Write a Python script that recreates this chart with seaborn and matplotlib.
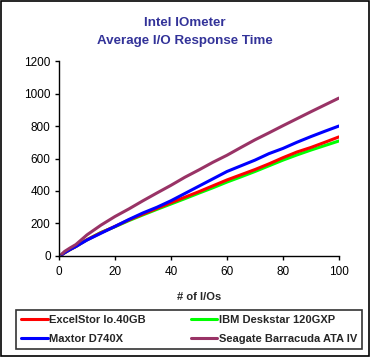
import pandas as pd
import seaborn as sns
import matplotlib.pyplot as plt
from matplotlib.patches import Rectangle

# Data
ios = [1, 2, 4, 6, 8, 10, 15, 20, 25, 30, 35, 40, 45, 50, 55, 60, 65, 70, 75, 80, 85, 90, 95, 100]
excelstor = [8, 20, 40, 58, 80, 100, 143, 182, 222, 258, 293, 328, 362, 396, 432, 468, 500, 532, 567, 605, 640, 668, 700, 733]
ibm = [8, 20, 40, 58, 80, 100, 145, 180, 218, 253, 287, 320, 353, 387, 420, 455, 487, 520, 555, 590, 622, 652, 680, 708]
maxtor = [8, 20, 40, 58, 78, 98, 140, 182, 225, 265, 300, 340, 385, 430, 475, 520, 555, 590, 630, 662, 700, 735, 768, 800]
seagate = [12, 28, 50, 70, 100, 130, 190, 243, 290, 340, 388, 435, 485, 530, 577, 620, 668, 715, 758, 802, 845, 888, 930, 972]

drives = ['ExcelStor Io.40GB', 'IBM Deskstar 120GXP', 'Maxtor D740X', 'Seagate Barracuda ATA IV']
colors = ['#ff0000', '#00ff00', '#0000ff', '#993366']

frames = []
for name, vals in zip(drives, [excelstor, ibm, maxtor, seagate]):
    frames.append(pd.DataFrame({'ios': ios, 'time': vals, 'drive': name}))
df = pd.concat(frames)

sns.set_style('white')
plt.rcParams['font.family'] = ['Liberation Sans', 'DejaVu Sans']

fig = plt.figure(figsize=(3.7, 3.57), dpi=100)
ax = fig.add_axes([0.1595, 0.283, 0.7565, 0.546])

# draw green first so red sits over it like in the original
order = ['IBM Deskstar 120GXP', 'ExcelStor Io.40GB', 'Maxtor D740X', 'Seagate Barracuda ATA IV']
pal = dict(zip(drives, colors))
sns.lineplot(data=df, x='ios', y='time', hue='drive', hue_order=order, palette=pal,
             linewidth=2.2, ax=ax, legend=False)

ax.set_xlim(0, 100)
ax.set_ylim(0, 1200)
ax.set_xticks(range(0, 101, 20))
ax.set_yticks(range(0, 1201, 200))
ax.tick_params(direction='out', length=3, width=1, colors='black', labelsize=8.5,
               bottom=True, left=True)
ax.tick_params(axis='x', pad=4)
ax.tick_params(axis='y', pad=3)
for s in ['top', 'right']:
    ax.spines[s].set_visible(False)
for s in ['left', 'bottom']:
    ax.spines[s].set_color('black')
    ax.spines[s].set_linewidth(1)
ax.set_xlabel('# of I/Os', fontsize=8, fontweight='bold', labelpad=10)
ax.set_ylabel('')

fig.text(0.5, 0.935, 'Intel IOmeter', ha='center', va='center', fontsize=9.6,
         fontweight='bold', color='#333399')
fig.text(0.5, 0.885, 'Average I/O Response Time', ha='center', va='center', fontsize=9.6,
         fontweight='bold', color='#333399')

handles = [plt.Line2D([], [], color=pal[d], linewidth=2.2) for d in drives]
leg_order = [0, 2, 1, 3]
leg = fig.legend([handles[i] for i in leg_order], [drives[i] for i in leg_order],
                 ncol=2, loc='lower left', bbox_to_anchor=(0.043, 0.022, 0.935, 0.115),
                 mode='expand', prop={'size': 8, 'weight': 'bold'}, handlelength=2.4,
                 handletextpad=0.1, borderaxespad=0, labelspacing=0.8, borderpad=0.45,
                 fancybox=False, frameon=True)
leg.get_frame().set_edgecolor('black')
leg.get_frame().set_linewidth(1.2)

fig.patches.append(Rectangle((0.003, 0.003), 0.994, 0.994, transform=fig.transFigure,
                             fill=False, edgecolor='black', linewidth=1.2))

fig.savefig('out.png', dpi=100)
